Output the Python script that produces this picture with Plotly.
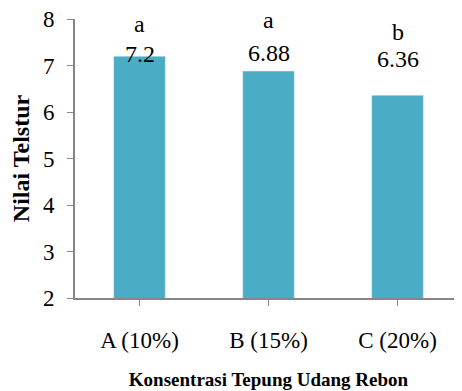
import plotly.graph_objects as go

categories = ["A (10%)", "B (15%)", "C (20%)"]
values = [7.2, 6.88, 6.36]
letters = ["a", "a", "b"]
value_texts = ["7.2", "6.88", "6.36"]
y_ticks = [2, 3, 4, 5, 6, 7, 8]

# label offsets above bar tops (in data units), as placed in the original
label_offsets = [0.04, 0.39, 0.77]
letter_offsets = [0.69, 1.09, 1.36]

FONT = "Liberation Serif, Times New Roman, serif"
AXIS = "#868686"

fig = go.Figure()
fig.add_trace(go.Bar(x=categories, y=values, marker_color="#4BACC6",
                     width=0.4, showlegend=False))

annotations = []
for c, v, t, l, lo, le in zip(categories, values, value_texts, letters,
                              label_offsets, letter_offsets):
    annotations.append(dict(x=c, y=v + lo, text=t, showarrow=False,
                            font=dict(family=FONT, size=24, color="black"),
                            xref="x", yref="y"))
    annotations.append(dict(x=c, y=v + le, text=l, showarrow=False,
                            font=dict(family=FONT, size=24, color="black"),
                            xref="x", yref="y"))

# page body adds an 8px offset; figure sized so it fits the window exactly
fig.update_layout(
    width=454, height=383,
    margin=dict(l=67, r=0, t=11, b=93),
    plot_bgcolor="white", paper_bgcolor="white",
    font=dict(family=FONT, color="black"),
    bargap=0.6,
    annotations=annotations,
    xaxis=dict(showline=True, linecolor=AXIS, linewidth=2,
               ticks="outside", ticklen=6, tickcolor=AXIS,
               tickfont=dict(family=FONT, size=23),
               ticklabelstandoff=14, automargin=False,
               title=dict(text="<b>Konsentrasi Tepung Udang Rebon</b>",
                          font=dict(family=FONT, size=19), standoff=21),
               showgrid=False),
    yaxis=dict(range=[2, 8], tickvals=y_ticks, showline=True, linecolor=AXIS,
               linewidth=2, ticks="outside", ticklen=6, tickcolor=AXIS,
               tickfont=dict(family=FONT, size=23),
               ticklabelstandoff=8, ticklabeloverflow="allow",
               automargin=False,
               title=dict(text="<b>Nilai Telstur</b>",
                          font=dict(family=FONT, size=24), standoff=12),
               showgrid=False, zeroline=False),
)

fig.write_html("out.html")
